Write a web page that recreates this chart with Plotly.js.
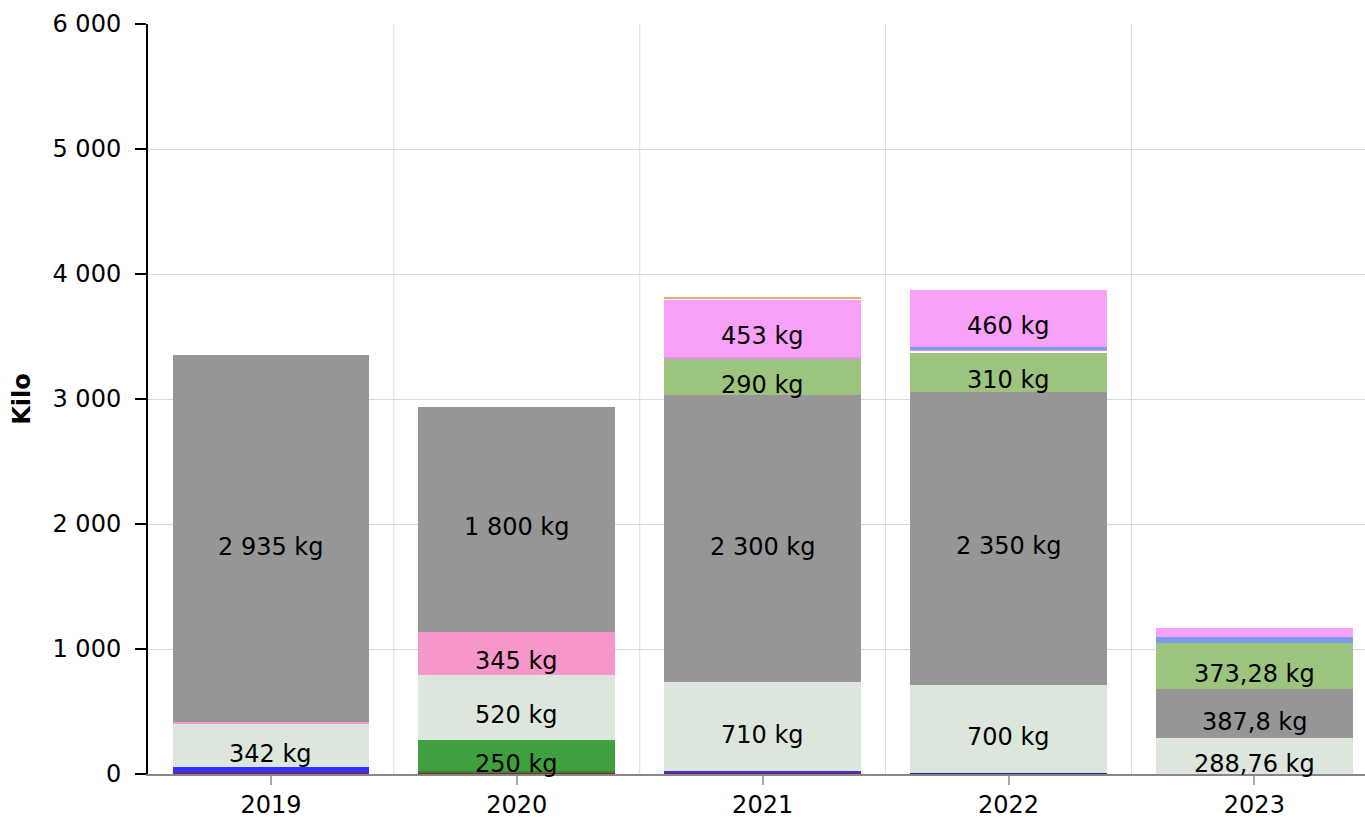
<!DOCTYPE html>
<html>
<head>
<meta charset="utf-8">
<script src="https://cdn.plot.ly/plotly-3.0.1.min.js"></script>
<style>html,body{margin:0;padding:0;background:#fff;}#chart{width:1365px;height:825px;}</style>
</head>
<body>
<div id="chart"></div>
<script>
// Categories
const years = ['2019', '2020', '2021', '2022', '2023'];

// Series values (kg), stacked from bottom to top
const darkRed     = [10, 8, 12, 0, 0];
const navy        = [0, 0, 0, 10, 0];
const blue        = [45, 0, 12, 0, 0];
const darkGreen2  = [0, 15, 0, 0, 0];
const green       = [0, 250, 0, 0, 0];
const lightGrey   = [342, 520, 710, 700, 288.76];
const pink        = [18, 345, 0, 0, 0];
const grey        = [2935, 1800, 2300, 2350, 387.8];
const lightGreen  = [0, 0, 290, 310, 373.28];
const white1      = [0, 0, 0, 12, 0];
const violetPink  = [0, 0, 15, 8, 0];
const blueViolet  = [0, 0, 0, 25, 45];
const magenta     = [0, 0, 453, 460, 72];
const white2      = [0, 0, 8, 0, 0];
const orange      = [0, 0, 20, 0, 0];

// Segment labels
const greenLabels      = ['', '250 kg', '', '', ''];
const lightGreyLabels  = ['342 kg', '520 kg', '710 kg', '700 kg', '288,76 kg'];
const pinkLabels       = ['', '345 kg', '', '', ''];
const greyLabels       = ['2 935 kg', '1 800 kg', '2 300 kg', '2 350 kg', '387,8 kg'];
const lightGreenLabels = ['', '', '290 kg', '310 kg', '373,28 kg'];
const magentaLabels    = ['', '', '453 kg', '460 kg', ''];

const yTicks = [0, 1000, 2000, 3000, 4000, 5000, 6000];

const series = [
  {v: darkRed, c: '#a31818'},
  {v: navy, c: '#1f1f9c'},
  {v: blue, c: '#3333ff'},
  {v: darkGreen2, c: '#2f8a3a'},
  {v: green, c: '#40a040', t: greenLabels},
  {v: lightGrey, c: '#dce6dc', t: lightGreyLabels},
  {v: pink, c: '#f797c9', t: pinkLabels},
  {v: grey, c: '#969696', t: greyLabels},
  {v: lightGreen, c: '#9cc47e', t: lightGreenLabels},
  {v: white1, c: '#ffffff'},
  {v: violetPink, c: '#e58fee'},
  {v: blueViolet, c: '#7b9ce6'},
  {v: magenta, c: '#f9a0f9', t: magentaLabels},
  {v: white2, c: '#ffffff'},
  {v: orange, c: '#f7a86a'}
];

const font = 'DejaVu Sans, Verdana, sans-serif';
const traces = [];
const annotations = [];
const base = years.map(() => 0);
series.forEach(s => {
  traces.push({
    type: 'bar', x: years, y: s.v,
    marker: {color: s.c, line: {width: 0}},
    hoverinfo: 'skip', showlegend: false
  });
  if (s.t) {
    s.t.forEach((txt, i) => {
      if (txt) {
        annotations.push({
          x: i, y: base[i] + s.v[i] / 2, xref: 'x', yref: 'y',
          text: txt, showarrow: false, yshift: -8,
          font: {family: font, size: 24, color: '#000'}
        });
      }
    });
  }
  s.v.forEach((v, i) => { base[i] += v; });
});

const shapes = [0.5, 1.5, 2.5, 3.5].map(xv => ({
  type: 'line', xref: 'x', yref: 'paper', x0: xv, x1: xv, y0: 0, y1: 1,
  line: {color: '#dddddd', width: 1}, layer: 'below'
}));

const layout = {
  width: 1365, height: 825,
  margin: {l: 148, r: 0, t: 24, b: 51},
  barmode: 'stack', bargap: 0.2,
  separators: ', ',
  paper_bgcolor: '#fff', plot_bgcolor: '#fff',
  font: {family: font, size: 24, color: '#000'},
  xaxis: {
    type: 'category', range: [-0.5, 4.45],
    showgrid: false, showline: true, linecolor: '#888', linewidth: 1.5,
    ticks: 'outside', ticklen: 9, tickcolor: '#aaa', tickwidth: 2,
    tickfont: {family: font, size: 24, color: '#000'},
    zeroline: false
  },
  yaxis: {
    range: [0, 6000], tickvals: yTicks, tickformat: ',d',
    showgrid: true, gridcolor: '#d9d9d9', gridwidth: 1,
    showline: true, linecolor: '#000', linewidth: 2,
    ticks: 'outside', ticklen: 11, tickcolor: '#000', tickwidth: 2,
    ticklabelstandoff: 9,
    tickfont: {family: font, size: 24, color: '#000'},
    zeroline: false,
    title: {text: '<b>Kilo</b>', font: {family: font, size: 24, color: '#000'}, standoff: 15}
  },
  shapes: shapes,
  annotations: annotations
};

Plotly.newPlot('chart', traces, layout, {displayModeBar: false, staticPlot: true});
</script>
</body>
</html>
